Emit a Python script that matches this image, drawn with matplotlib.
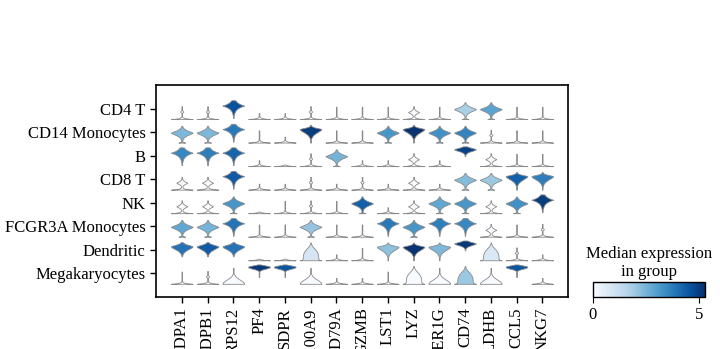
import numpy as np
import matplotlib.pyplot as plt
from matplotlib import colors, cm

plt.rcParams['font.family'] = ['Liberation Serif', 'DejaVu Serif']

groups = ['CD4 T', 'CD14 Monocytes', 'B', 'CD8 T', 'NK',
          'FCGR3A Monocytes', 'Dendritic', 'Megakaryocytes']
genes = ['HLA-DPA1', 'HLA-DPB1', 'RPS12', 'PF4', 'SDPR', 'S100A9', 'CD79A',
         'GZMB', 'LST1', 'LYZ', 'FCER1G', 'CD74', 'LDHB', 'CCL5', 'NKG7']

# median expression per group (rows) and gene (columns)
median_expr = np.array([
    [0.0, 0.0, 4.6, 0.0, 0.0, 0.0, 0.0, 0.0, 0.0, 0.0, 0.0, 1.8, 2.9, 0.0, 0.0],
    [2.4, 2.4, 3.8, 0.0, 0.0, 5.0, 0.0, 0.0, 3.2, 5.2, 3.3, 3.6, 0.0, 0.0, 0.0],
    [3.5, 3.7, 4.2, 0.0, 0.0, 0.0, 2.5, 0.0, 0.0, 0.0, 0.0, 4.9, 0.0, 0.0, 0.0],
    [0.0, 0.0, 4.4, 0.0, 0.0, 0.0, 0.0, 0.0, 0.0, 0.0, 0.0, 2.3, 2.0, 4.3, 3.7],
    [0.0, 0.0, 3.2, 0.0, 0.0, 0.0, 0.0, 4.3, 0.0, 0.0, 2.8, 3.2, 0.0, 3.3, 5.0],
    [2.8, 2.5, 3.9, 0.0, 0.0, 2.1, 0.0, 0.0, 3.8, 3.2, 3.7, 3.5, 0.0, 0.0, 0.0],
    [3.9, 4.4, 3.9, 0.0, 0.0, 0.9, 0.0, 0.0, 2.2, 5.2, 2.4, 5.1, 0.8, 0.0, 0.0],
    [0.0, 0.0, 0.0, 5.1, 4.5, 0.0, 0.0, 0.0, 0.0, 0.0, 0.0, 2.0, 0.0, 4.5, 0.0],
])

# distribution shape of each violin, one character per gene
violin_shapes = [
    "ooS__o|||O|DD||",
    "DDS|_V||DVDDo||",
    "SSS_-oD__O_EO||",
    "OOS__o_o_O_DDVV",
    "OOD-|o|D_ODDODS",
    "DDS||D||SDSSO|o",
    "LLL--T_|VVVETo_",
    "|oBCCB__|TBTBC_",
]

# shape -> (low, high, [(centre, scale_down, scale_up, power, weight), ...])
templates = {
    '-': (0.0, 0.08, [(0.0, 0.03, 0.03, 1.0, 1.0)]),
    '_': (0.0, 0.30, [(0.0, 0.04, 0.04, 1.0, 1.0)]),
    '|': (0.0, 0.62, [(0.0, 0.04, 0.04, 1.0, 1.0)]),
    'o': (0.0, 0.65, [(0.0, 0.04, 0.04, 1.0, 1.0), (0.38, 0.06, 0.06, 2.0, 0.14)]),
    'O': (0.0, 0.65, [(0.0, 0.04, 0.04, 1.0, 1.0), (0.35, 0.10, 0.10, 1.3, 0.5)]),
    'D': (0.0, 0.85, [(0.5, 0.17, 0.15, 1.4, 1.0), (0.0, 0.03, 0.03, 1.0, 0.3)]),
    'S': (0.05, 0.95, [(0.68, 0.16, 0.16, 1.0, 1.0)]),
    'V': (0.0, 0.90, [(0.68, 0.25, 0.09, 1.6, 1.0)]),
    'L': (0.2, 0.92, [(0.70, 0.22, 0.12, 1.6, 1.0)]),
    'E': (0.5, 1.0, [(0.85, 0.13, 0.11, 1.6, 1.0)]),
    'C': (0.35, 0.98, [(0.86, 0.13, 0.09, 2.2, 1.0)]),
    'B': (0.0, 0.80, [(0.0, 0.10, 0.30, 2.0, 1.0)]),
    'T': (0.0, 0.90, [(0.0, 0.10, 0.65, 4.0, 1.0), (0.0, 0.03, 0.03, 1.0, 0.4)]),
}

vmax = 5.27
cmap = plt.get_cmap('Blues')
norm = colors.Normalize(vmin=0, vmax=vmax)


def violin_profile(shape, n=200):
    lo, hi, comps = templates[shape]
    t = np.linspace(lo, hi, n)
    w = np.zeros_like(t)
    for c, sd, su, p, h in comps:
        d = t - c
        s = np.where(d < 0, sd, su)
        w += h * np.exp(-np.abs(d / s) ** p)
    w = w / w.max() * 0.42
    w = np.maximum(w, 0.012)
    return t, w


fig = plt.figure(figsize=(7.2, 3.49), dpi=100)
ax = fig.add_axes([0.2167, 0.149, 0.5722, 0.607])

for i, row in enumerate(violin_shapes):
    for j, shape in enumerate(row):
        t, w = violin_profile(shape)
        y = i + 0.44 - t * 0.84
        ax.fill_betweenx(y, j - w, j + w,
                         facecolor=cmap(norm(median_expr[i, j])),
                         edgecolor='#8a8a8a', linewidth=0.6)

ax.set_xlim(-1, len(genes))
ax.set_ylim(len(groups), -1)
ax.set_xticks(range(len(genes)))
ax.set_xticklabels(genes, rotation=90, fontsize=12)
ax.set_yticks(range(len(groups)))
ax.set_yticklabels(groups, fontsize=12)
ax.tick_params(length=4, width=1)
for sp in ax.spines.values():
    sp.set_linewidth(1.2)

# colour bar for median expression
cax = fig.add_axes([0.8236, 0.149, 0.1556, 0.043])
cb = fig.colorbar(cm.ScalarMappable(norm=norm, cmap=cmap), cax=cax,
                  orientation='horizontal', ticks=[0, 5])
cb.ax.tick_params(labelsize=12, length=4)
cb.outline.set_linewidth(1.0)
cax.set_title('Median expression\nin group', fontsize=12, pad=4)

fig.savefig('out.png', dpi=100)
